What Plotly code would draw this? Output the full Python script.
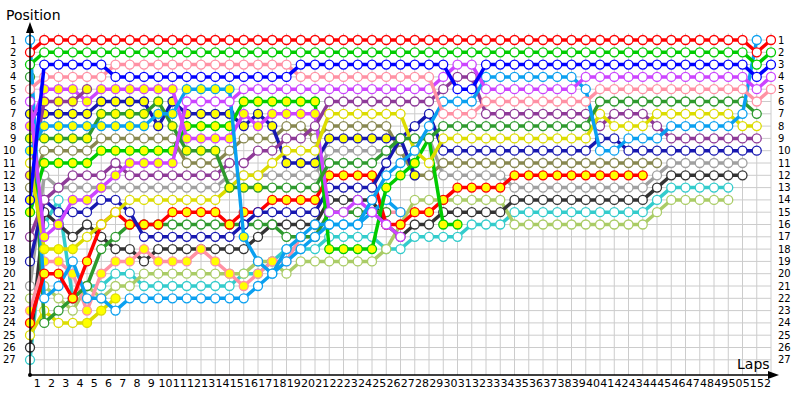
import plotly.graph_objects as go

# ---------------- data ----------------
lap_numbers = list(range(0, 53))          # lap 0 = grid
lap_labels = [str(k) for k in range(1, 53)]
position_labels = [str(p) for p in range(1, 28)]

N = None
red1 = [2,1,1,1,1,1,1,1,1,1, 1,1,1,1,1,1,1,1,1,1, 1,1,1,1,1,1,1,1,1,1, 1,1,1,1,1,1,1,1,1,1, 1,1,1,1,1,1,1,1,1,1, 1,2,1]
green1 = [3,2,2,2,2,2,2,2,2,2, 2,2,2,2,2,2,2,2,2,2, 2,2,2,2,2,2,2,2,2,2, 2,2,2,2,2,2,2,2,2,2, 2,2,2,2,2,2,2,2,2,2, 2,3,2]
blue1 = [14,3,3,3,3,3,4,4,4,4, 4,4,4,4,4,4,4,4,4,3, 3,3,3,3,3,3,3,3,3,3, 5,5,3,3,3,3,3,3,3,3, 3,3,3,3,3,3,3,3,3,3, 3,4,3]
pink1 = [5,4,4,4,4,4,3,3,3,3, 3,3,3,3,3,3,3,3,3,4, 4,4,4,4,4,4,4,4,4,7, 7,7,6,6,6,6,6,6,6,6, 5,5,5,5,5,5,5,5,5,5, 5,6,5]
violet1 = [6,17,16,14,14,13,12,11,11,11, 11,6,6,6,6,5,5,5,5,5, 5,5,5,5,5,5,5,5,5,4, 3,3,5,5,5,5,5,5,5,4, 4,4,4,4,4,4,4,4,4,4, 4,5,4]
violet2 = [8,5,5,5,6,5,5,5,5,5, 5,9,9,9,9,7,8,7,7,7, 7,15,15,14,15,16,17,N,N,N, N,N,N,N,N,N,N,N,N,N, N,N,N,N,N,N,N,N,N,N, N,N,N]
lightblue1 = [10,8,8,8,8,8,8,8,8,7, 7,5,5,5,5,17,19,20,19,18, 17,16,16,16,14,12,11,10,8,6, 6,6,4,4,4,4,4,4,4,5, 10,10,9,9,9,8,8,8,8,8, 7,1,N]
lightblue2 = [1,22,21,19,22,22,23,22,22,22, 22,22,22,22,22,22,21,20,18,17, 16,16,16,16,15,14,15,N,N,N, N,N,N,N,N,N,N,N,N,N, N,N,N,N,N,N,N,N,N,N, N,N,N]
darkgreen1 = [9,9,9,9,9,7,7,7,7,6, 8,10,10,10,13,13,13,13,13,13, 13,11,11,11,11,10,9,9,9,8, 8,8,8,8,8,8,8,8,8,8, 6,6,6,6,6,6,6,6,6,6, 6,7,N]
darkgreen2 = [4,24,23,22,21,18,17,16,16,16, 16,16,16,16,16,16,16,16,17,17, 17,15,15,15,15,15,N,N,N,N, N,N,N,N,N,N,N,N,N,N, N,N,N,N,N,N,N,N,N,N, N,N,N]
darkpurple1 = [12,6,6,6,5,N,N,N,N,N, N,N,N,N,N,N,N,N,N,N, N,N,N,N,N,N,N,N,N,N, N,N,N,N,N,N,N,N,N,N, N,N,N,N,N,N,N,N,N,N, N,N,N]
darkpurple2 = [17,14,13,12,12,12,11,12,12,12, 12,12,12,12,11,11,10,10,9,9, 8,6,6,6,6,6,6,6,6,5, 4,4,7,7,7,7,7,7,7,7, 8,7,7,7,8,9,9,9,9,9, 9,9,N]
yellow1 = [11,18,18,18,17,16,15,14,14,14, 14,14,14,14,13,12,12,11,10,10, 10,7,7,7,7,7,7,10,11,9, 9,9,9,9,9,9,9,9,9,9, 7,8,8,8,7,7,7,7,7,7, 8,8,N]
yellow2 = [25,23,24,24,24,23,22,N,N,N, N,N,N,N,N,N,N,N,N,N, N,N,N,N,N,N,N,N,N,N, N,N,N,N,N,N,N,N,N,N, N,N,N,N,N,N,N,N,N,N, N,N,N]
navy1 = [7,7,7,7,7,6,6,6,6,8, 6,7,7,7,7,8,7,8,11,11, 11,9,9,9,9,9,9,12,N,N, N,N,N,N,N,N,N,N,N,N, N,N,N,N,N,N,N,N,N,N, N,N,N]
navy2 = [19,14,15,15,15,14,14,15,17,17, 17,17,17,17,17,16,15,15,15,15, 15,13,13,13,13,11,9,8,7,10, 10,10,10,10,10,10,10,10,10,10, 9,9,10,10,10,10,10,10,10,10, 10,10,N]
gray1 = [21,12,13,13,13,13,13,13,13,13, 13,13,13,13,12,12,12,12,12,12, 12,10,10,10,10,10,9,9,9,12, 12,12,12,12,13,13,13,13,13,13, 13,13,13,13,12,11,11,11,11,11, 11,N,N]
black1 = [26,15,16,17,16,17,18,18,19,18, 18,18,18,18,18,18,17,16,16,16, 16,14,14,14,14,16,17,16,16,15, 15,15,15,15,14,14,14,14,14,14, 14,14,14,14,13,12,12,12,12,12, 12,N,N]
teal1 = [27,16,14,22,21,21,20,20,21,21, 21,21,21,21,21,20,20,19,18,18, 18,17,17,17,17,18,18,17,17,17, 17,16,16,16,15,15,15,15,15,15, 15,15,15,15,14,13,13,13,13,13, N,N,N]
ygreen1 = [22,21,22,23,21,22,21,21,20,20, 20,20,20,20,20,20,19,19,20,19, 19,19,19,19,19,18,16,14,14,14, 14,14,14,14,16,16,16,16,16,16, 16,16,16,16,15,14,14,14,14,14, N,N,N]
olive1 = [13,10,10,10,10,9,9,9,9,9, 9,11,11,11,10,9,9,9,8,8, 9,8,8,8,8,8,10,12,12,11, 11,11,11,11,11,11,11,11,11,11, 11,11,11,11,11,N,N,N,N,N, N,N,N]
red2 = [24,20,20,22,19,16,15,16,16,16, 15,15,15,15,16,15,15,14,14,14, 14,12,12,12,12,16,16,15,15,14, 13,13,13,13,12,12,12,12,12,12, 12,12,12,12,N,N,N,N,N,N, N,N,N]
green2 = [15,11,11,11,11,10,10,10,10,10, 10,8,8,8,8,6,6,6,6,6, 6,18,18,18,18,13,12,11,9,16, 16,N,N,N,N,N,N,N,N,N, N,N,N,N,N,N,N,N,N,N, N,N,N]
pink2 = [23,19,19,20,23,20,19,19,18,19, 19,19,18,19,20,21,20,19,19,17, 17,15,15,15,15,15,15,N,N,N, N,N,N,N,N,N,N,N,N,N, N,N,N,N,N,N,N,N,N,N, N,N,N]

# laps run on the yellow-marked stint (first lap, last lap)
yellow_stints = {
    "blue1": [(0, 0)], "violet2": [(0, 20)], "violet1": [(1, 10)],
    "lightblue1": [(0, 15)], "darkpurple1": [(0, 4)], "navy1": [(0, 27)],
    "darkgreen1": [(0, 16)], "yellow1": [(1, 3)], "yellow2": [(4, 6)],
    "red2": [(0, 43)], "green2": [(0, 30)], "pink2": [(0, 26)],
}

series = {
    "teal1": teal1, "ygreen1": ygreen1, "black1": black1, "gray1": gray1,
    "pink2": pink2, "yellow2": yellow2, "darkgreen2": darkgreen2,
    "lightblue2": lightblue2, "red2": red2, "olive1": olive1,
    "navy2": navy2, "navy1": navy1, "green2": green2, "violet2": violet2,
    "darkpurple1": darkpurple1, "darkpurple2": darkpurple2, "yellow1": yellow1,
    "darkgreen1": darkgreen1, "lightblue1": lightblue1, "violet1": violet1,
    "pink1": pink1, "blue1": blue1, "green1": green1, "red1": red1,
}

# ---------------- style ----------------
colors = {
    "red1": "#FF0000", "red2": "#FF0000", "green1": "#00CC00", "green2": "#00CC00",
    "blue1": "#0000FF", "pink1": "#FF91A4", "pink2": "#FF91A4",
    "violet1": "#CC44FF", "violet2": "#CC44FF", "lightblue1": "#0AA0F0",
    "lightblue2": "#0AA0F0", "darkgreen1": "#2E9A2E", "darkgreen2": "#2E9A2E",
    "darkpurple1": "#8E3A98", "darkpurple2": "#8E3A98", "yellow1": "#DCDC00",
    "yellow2": "#DCDC00", "navy1": "#1818B0", "navy2": "#1818B0", "gray1": "#A0A0A0",
    "black1": "#333333", "teal1": "#33CCCC", "ygreen1": "#AACC66", "olive1": "#888850",
}
FONT = "DejaVu Sans"
L, R, T, B = 30, 15, 25, 25
PW, PH = 800 - L - R, 400 - T - B
PX_PER_LAP = 14.25
X_MAX = PW / PX_PER_LAP
Y_TOP, Y_BOT = -0.2195, 28.236


def px_x(px):   # figure pixel -> paper x
    return (px - L) / PW


def px_y(py):   # figure pixel -> paper y
    return 1 - (py - T) / PH


fig = go.Figure()

shapes = []
for k in range(1, 53):
    shapes.append(dict(type="line", x0=k, x1=k, y0=0.45, y1=Y_BOT, xref="x", yref="y",
                       line=dict(color="#CCCCCC", width=1), layer="below"))
for p in range(1, 28):
    shapes.append(dict(type="line", x0=0, x1=52, y0=p, y1=p, xref="x", yref="y",
                       line=dict(color="#CCCCCC", width=1), layer="below"))
# axes
shapes.append(dict(type="line", xref="paper", yref="paper", x0=0, x1=px_x(772), y0=0, y1=0,
                   line=dict(color="#000", width=1.5)))
shapes.append(dict(type="line", xref="paper", yref="paper", x0=0, x1=0, y0=0, y1=px_y(30),
                   line=dict(color="#000", width=1.5)))
shapes.append(dict(type="circle", xref="paper", yref="paper", x0=px_x(28), x1=px_x(32),
                   y0=px_y(377), y1=px_y(373), fillcolor="#000", line=dict(color="#000", width=0)))
shapes.append(dict(type="path", xref="paper", yref="paper",
                   path=f"M {px_x(779)} {px_y(375)} L {px_x(768)} {px_y(371)} L {px_x(768)} {px_y(379)} Z",
                   fillcolor="#000", line=dict(color="#000", width=0)))
shapes.append(dict(type="path", xref="paper", yref="paper",
                   path=f"M {px_x(30)} {px_y(22)} L {px_x(26)} {px_y(33)} L {px_x(34)} {px_y(33)} Z",
                   fillcolor="#000", line=dict(color="#000", width=0)))

for name, vals in series.items():
    assert len(vals) == 53, (name, len(vals))
    fills = []
    for lap, v in zip(lap_numbers, vals):
        yel = any(a <= lap <= b for a, b in yellow_stints.get(name, []))
        fills.append("#FFFF00" if yel else "#FFFFFF")
    fig.add_trace(go.Scatter(
        x=lap_numbers, y=vals, mode="lines+markers", name=name,
        line=dict(color=colors[name], width=3.5),
        marker=dict(size=9, color=fills, line=dict(color=colors[name], width=1.3)),
        cliponaxis=False, connectgaps=False, hoverinfo="skip", showlegend=False))

ann = []
for i, lab in enumerate(position_labels):
    p = i + 1
    ann.append(dict(x=px_x(18), y=p, xref="paper", yref="y", text=lab, showarrow=False,
                    xanchor="right", yanchor="middle", font=dict(family=FONT, size=10, color="#000")))
    ann.append(dict(x=px_x(776), y=p, xref="paper", yref="y", text=lab, showarrow=False,
                    xanchor="left", yanchor="middle", font=dict(family=FONT, size=10, color="#000")))
ann.append(dict(x=px_x(4), y=px_y(15), xref="paper", yref="paper", text="Position", showarrow=False,
                xanchor="left", yanchor="middle", font=dict(family=FONT, size=14, color="#000")))
ann.append(dict(x=px_x(772), y=px_y(364), xref="paper", yref="paper", text="Laps", showarrow=False,
                xanchor="right", yanchor="middle", font=dict(family=FONT, size=14, color="#000")))

fig.update_layout(
    width=800, height=400, margin=dict(l=L, r=R, t=T, b=B, autoexpand=False),
    paper_bgcolor="white", plot_bgcolor="white", shapes=shapes, annotations=ann,
    xaxis=dict(range=[0, X_MAX], tickvals=[k - 0.5 for k in range(1, 53)], ticktext=lap_labels,
               showgrid=False, zeroline=False, showline=False, ticks="", automargin=False,
               tickfont=dict(family=FONT, size=11, color="#000"), tickangle=0),
    yaxis=dict(range=[Y_BOT, Y_TOP], showticklabels=False, showgrid=False, zeroline=False,
               automargin=False),
)
fig.write_html("out.html", config={"displayModeBar": False},
               post_script="document.body.style.margin='0px';")
